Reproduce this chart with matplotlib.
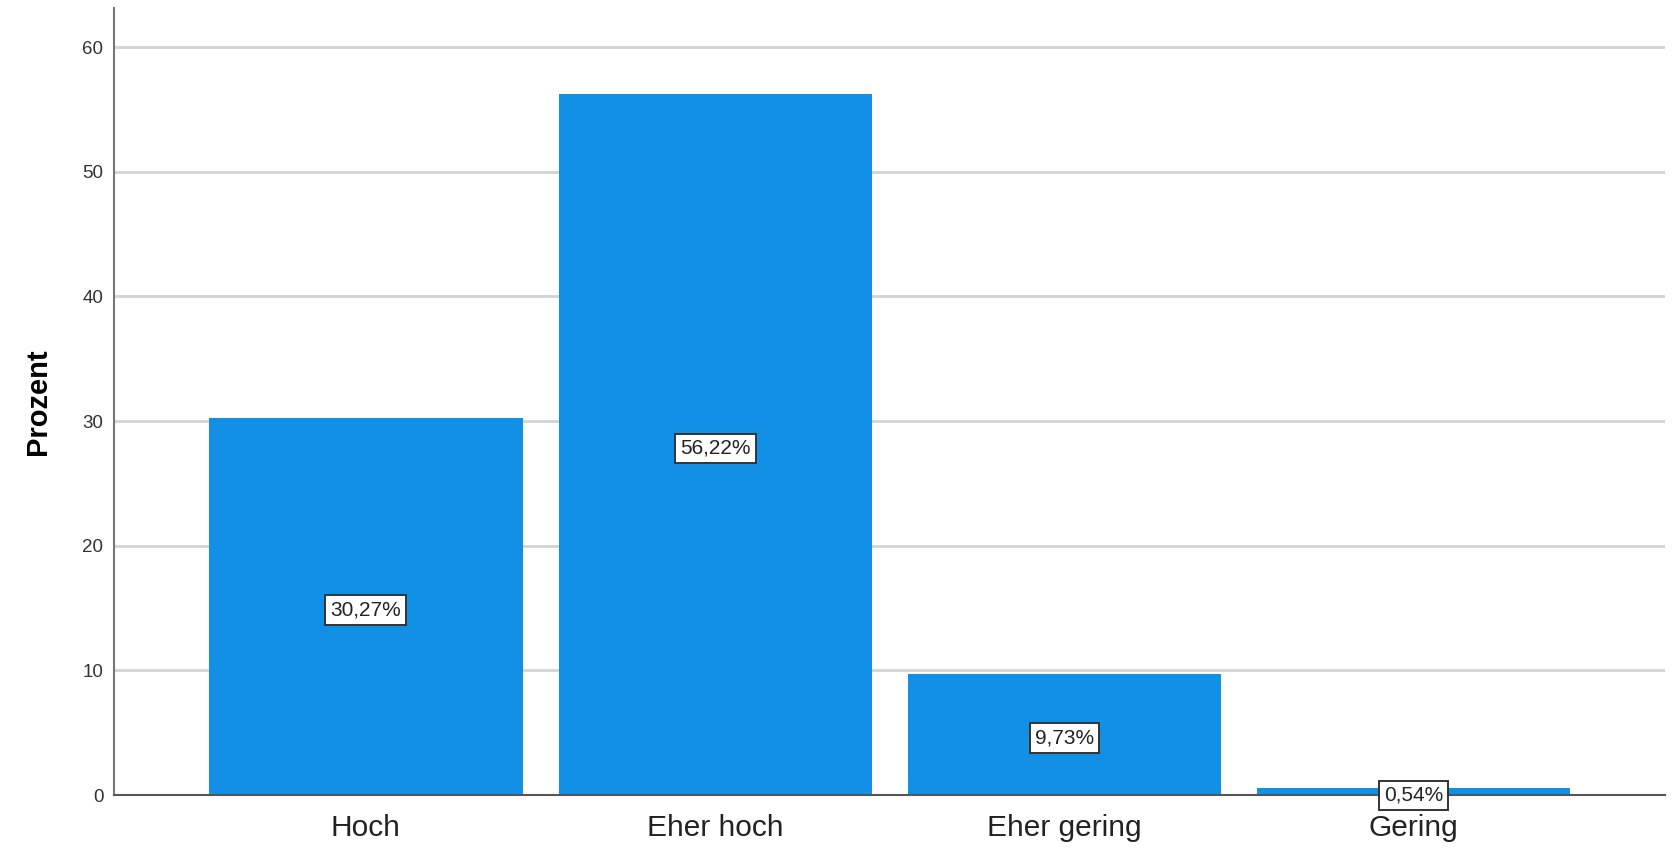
import numpy as np
import matplotlib
matplotlib.use("Agg")
import matplotlib.pyplot as plt

plt.rcParams['font.family'] = ['Liberation Sans', 'DejaVu Sans']

# data
categories = ['Hoch', 'Eher hoch', 'Eher gering', 'Gering']
percent = [30.27, 56.22, 9.73, 0.54]
labels = ['30,27%', '56,22%', '9,73%', '0,54%']

bar_color = '#1290e6'

fig = plt.figure(figsize=(16.78, 8.48), dpi=100)
ax = fig.add_axes([0.0682, 0.0625, 0.9241, 0.9275])

x = np.arange(len(categories))
bars = ax.bar(x, percent, width=0.897, color=bar_color, zorder=2)

# value labels in the middle of each bar
for xi, val, lab in zip(x, percent, labels):
    ax.text(xi, val / 2 - 0.3, lab, ha='center', va='center', fontsize=15,
            color='#222222', zorder=3,
            bbox=dict(boxstyle='square,pad=0.25', fc='white', ec='#333333', lw=1.4))

ax.set_xlim(-0.72, 3.72)
ax.set_ylim(0, 63.1)
ax.set_yticks([0, 10, 20, 30, 40, 50, 60])
ax.set_xticks(x)
ax.set_xticklabels(categories, fontsize=21.5, color='#222222')
ax.tick_params(axis='x', length=0, pad=14)
ax.tick_params(axis='y', length=0, pad=8, labelsize=13.5, labelcolor='#333333')

ax.yaxis.grid(True, color='#d3d3d3', lw=2, zorder=0)
ax.set_axisbelow(True)

for s in ['top', 'right']:
    ax.spines[s].set_visible(False)
ax.spines['left'].set_color('#777777')
ax.spines['bottom'].set_color('#555555')
ax.spines['left'].set_linewidth(1.5)
ax.spines['bottom'].set_linewidth(1.5)

ax.set_ylabel('Prozent', fontsize=21, fontweight='bold',
              family=['Liberation Sans Narrow', 'Liberation Sans'], labelpad=22)

fig.savefig('out.png', dpi=100)
